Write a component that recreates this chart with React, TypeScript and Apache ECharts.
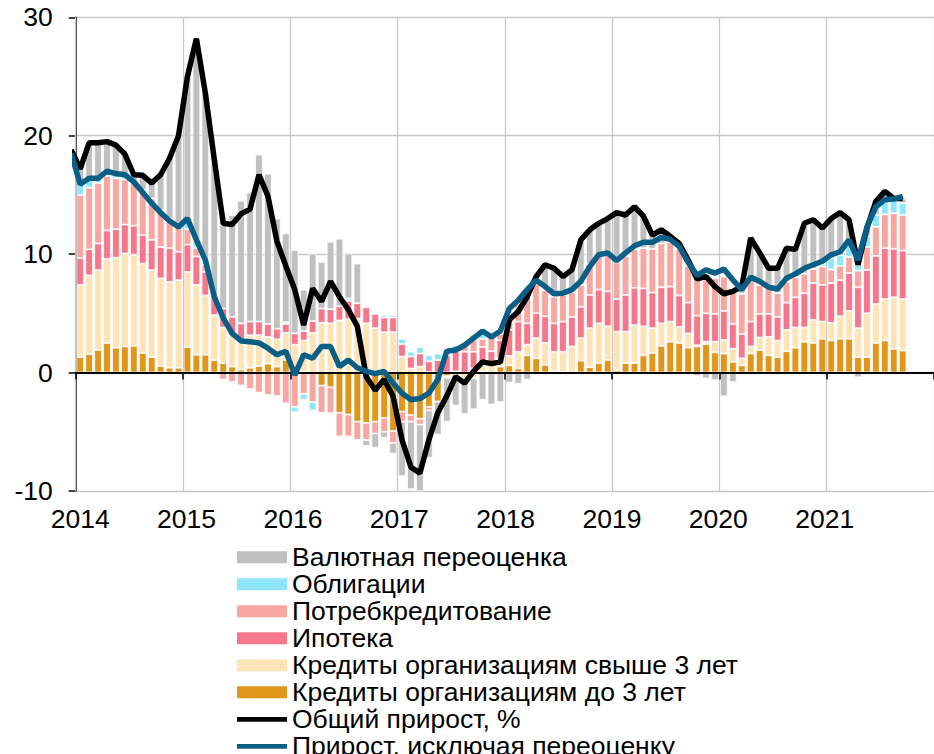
import React, { useEffect, useRef } from 'react';
import * as echarts from 'echarts';

// ---- Data (monthly, Jan 2014 .. Sep 2021), percentage points ----
const yearLabels = ['2014', '2015', '2016', '2017', '2018', '2019', '2020', '2021'];

// month categories Jan 2014 .. Dec 2021 (the axis spans 8 full years; data end in Sep 2021)
const monthCategories: string[] = [];
yearLabels.forEach((y) => {
  for (let m = 1; m <= 12; m++) monthCategories.push(`${y}-${m < 10 ? '0' + m : m}`);
});

const shortCorp = [
  1.3, 1.55, 1.9, 2.5, 2.1, 2.2, 2.25, 1.65, 1.3, 0.55, 0.4, 0.4,
  2.15, 1.5, 1.5, 1.05, 0.8, 0.5, 0.25, 0.4, 0.55, 0.75, 0.5, 1.05,
  0.05, 0.1, 0, -1.1, -1.25, -3.4, -3.55, -4.15, -4.25, -4.15, -3.85, -4.95,
  -3.3, -3.6, -3.9, -2.9, -2.45, -0.3, 0.1, 0, 0.35, 0.1, 0, 0.5,
  0.6, 0.35, 1.45, 1.2, 0.65, 0.1, 0.05, 0, 1.0, 0.45, 0.8, 1.05,
  0.2, 0.8, 0.8, 1.45, 1.65, 2.25, 2.6, 2.5, 2.1, 2.2, 2.4, 1.7,
  1.6, 0.9, 0.6, 1.6, 1.9, 1.45, 1.3, 1.8, 2.1, 2.6, 2.5, 2.85,
  2.7, 2.85, 2.85, 1.3, 1.3, 2.5, 2.7, 2.0, 1.85,
];

const longCorp = [
  6.1, 6.65, 6.75, 7.1, 7.6, 7.85, 7.7, 7.55, 7.35, 7.4, 7.25, 7.4,
  6.35, 5.9, 5.0, 3.8, 3.0, 2.65, 2.35, 2.75, 2.6, 2.25, 2.3, 2.3,
  2.3, 2.6, 3.35, 4.2, 4.15, 4.4, 4.5, 4.55, 4.15, 3.75, 3.4, 3.4,
  1.35, 0.35, 0.5, 0.05, 0, -0.15, -0.6, -0.7, -0.5, 0.5, 0.8, 0.7,
  0.8, 1.4, 0.9, 1.7, 1.85, 1.65, 1.7, 2.2, 1.9, 3.3, 3.35, 2.85,
  3.25, 2.65, 3.2, 2.45, 2.1, 1.9, 1.7, 1.35, 1.2, 0.1, 0.2, 0.9,
  1.15, 1.1, 0.6, 0.6, 1.05, 1.55, 1.4, 1.8, 1.7, 1.2, 1.95, 1.45,
  1.5, 1.9, 2.35, 2.45, 3.7, 3.3, 3.5, 4.35, 4.35,
];

const mortgage = [
  2.25, 2.2, 2.25, 2.4, 2.4, 2.45, 2.45, 2.4, 2.55, 2.65, 2.85, 2.4,
  2.3, 2.4, 2.0, 1.65, 1.6, 1.55, 1.55, 1.15, 1.15, 1.1, 0.9, 0.75,
  0.95, 0.8, 1.0, 1.2, 1.2, 1.2, 1.55, 1.3, 1.35, 1.2, 1.25, 1.25,
  1.05, 1.0, 1.1, 0.9, 1.05, 1.45, 1.7, 1.75, 1.4, 1.55, 1.0, 1.55,
  2.2, 2.55, 1.8, 2.1, 2.25, 2.4, 2.55, 2.5, 2.65, 2.8, 2.85, 2.95,
  2.75, 3.1, 3.15, 3.2, 3.0, 3.05, 2.95, 2.65, 2.6, 2.5, 2.4, 2.35,
  2.45, 2.1, 2.05, 2.1, 2.0, 1.95, 2.0, 2.3, 2.55, 2.9, 3.1, 3.1,
  3.35, 3.05, 3.2, 3.45, 3.65, 4.05, 4.3, 4.1, 4.1,
];

const consumer = [
  5.35, 5.2, 5.1, 4.6, 4.3, 3.8, 3.7, 3.8, 3.5, 3.1, 2.5, 2.4,
  1.3, 0.7, 0.6, -0.2, -0.6, -0.8, -1.1, -1.4, -1.7, -1.9, -2.0, -2.6,
  -2.9, -1.8, -2.5, -2.3, -2.2, -2.0, -1.85, -1.55, -1.45, -1.0, -1.15, -1.0,
  -0.85, -0.55, -0.5, -0.3, 0, 0, 0, 0.45, 1.0, 0.7, 1.2, 0.5,
  1.3, 1.5, 2.6, 2.5, 2.2, 2.25, 2.25, 2.1, 1.85, 2.6, 3.0, 3.15,
  3.1, 3.3, 3.25, 3.4, 3.7, 3.7, 3.75, 3.95, 3.1, 3.1, 2.8, 3.0,
  2.9, 3.0, 3.4, 3.7, 2.45, 2.2, 2.0, 1.75, 1.7, 1.65, 1.2, 1.55,
  1.15, 1.2, 1.35, 1.4, 1.95, 2.45, 2.85, 3.0, 3.0,
];

const bonds = [
  0.9, 0.8, 0.4, 0.4, 0.4, 0.4, 0, 0, 0, 0, 0, 0,
  0.9, 0.7, 0.4, 0, 0, 0, 0, 0, 0, 0, 0, 0.15,
  -0.45, -0.5, -0.7, 0, 0, 0, 0.2, 0, 0, 0, 0.2, 0.2,
  0.45, 0.4, 0.55, 0.5, 0.55, 0.45, 0.5, 0.4, 0.45, 0.4, 0.3, 0.15,
  0.4, 0.3, 0.25, 0.3, 0.2, 0.1, 0, 0, 0, 0, 0, 0,
  0, 0, 0, 0, 0, 0, 0, 0, 0, 0, 0, 0,
  0, 0, 0, 0, 0, 0, 0, 0, 0, 0, 0, 0.2,
  0.95, 0.9, 1.05, 0.5, 0.9, 1.0, 1.1, 1.05, 1.0,
];

const fxRevaluation = [
  1.3, 3.0, 3.0, 2.5, 2.4, 1.75, 0.8, 1.45, 1.7, 3.2, 5.3, 7.7,
  12.0, 17.0, 14.1, 11.6, 7.8, 8.6, 10.35, 10.9, 14.1, 12.7, 9.3, 7.5,
  7.05, 3.5, 5.7, 3.95, 5.7, 5.7, 3.8, 3.35, -0.5, -1.2, -0.5, -0.9,
  -4.6, -5.7, -6.1, -4.0, -2.8, -3.7, -2.2, -2.8, -2.6, -2.3, -2.7, -2.5,
  -0.85, -0.95, -0.6, 0.3, 1.95, 2.3, 1.55, 1.85, 3.8, 2.9, 2.6, 3.0,
  4.2, 3.45, 3.6, 2.7, 1.15, 1.15, 0.5, 0.45, -0.2, -0.3, -0.5, -0.65,
  -2.0, -0.8, 0.6, 3.35, 2.7, 1.65, 2.1, 2.85, 2.35, 4.25, 4.15, 3.05,
  3.35, 3.6, 2.1, -0.4, 0.7, 1.15, 0.85, 0.2, 0.4,
];

// Lines start one month earlier (Dec 2013), clipped at the axis
const totalGrowth = [
  18.8,
  17.2, 19.4, 19.4, 19.5, 19.2, 18.45, 16.7, 16.65, 16.0, 16.7, 18.1, 20.0,
  25.0, 28.2, 23.6, 18.0, 12.6, 12.5, 13.4, 13.8, 16.7, 14.9, 11.1, 9.0,
  7.0, 4.0, 7.1, 6.0, 7.7, 6.4, 5.3, 3.9, -0.35, -1.5, -0.6, -2.0,
  -5.7, -8.0, -8.5, -5.7, -3.4, -2.0, -0.35, -0.9, 0.1, 0.9, 0.75, 0.9,
  4.45, 5.15, 6.4, 8.1, 9.1, 8.8, 8.1, 8.67, 11.2, 12.05, 12.6, 13.0,
  13.5, 13.3, 14.0, 13.2, 11.6, 12.05, 11.5, 10.9, 9.5, 7.9, 8.1, 7.26,
  6.65, 6.85, 7.26, 11.35, 10.1, 8.8, 8.8, 10.5, 10.4, 12.6, 12.9, 12.2,
  13.0, 13.5, 12.9, 9.1, 12.2, 14.45, 15.3, 14.7, 14.7,
];

const growthExRevaluation = [
  18.5,
  15.9, 16.4, 16.4, 17.0, 16.8, 16.7, 16.1, 15.2, 14.3, 13.5, 12.8, 12.3,
  13.0, 11.2, 9.5, 6.4, 4.6, 3.3, 2.67, 2.6, 2.5, 2.05, 1.5, 1.8,
  -0.2, 1.5, 1.2, 2.2, 2.2, 0.5, 1.06, 0.4, 0.1, -0.1, 0.1, -0.9,
  -1.75, -2.3, -2.2, -1.75, -0.6, 1.8, 1.9, 2.3, 2.9, 3.5, 3.0, 3.5,
  5.4, 6.1, 7.0, 7.8, 7.26, 6.65, 6.7, 7.0, 7.7, 8.95, 9.95, 10.1,
  9.45, 10.1, 10.7, 11.0, 11.0, 11.4, 11.25, 10.65, 9.3, 8.2, 8.67, 8.4,
  8.73, 7.83, 7.0, 8.05, 7.7, 7.2, 7.05, 7.97, 8.33, 8.8, 9.1, 9.4,
  9.94, 10.2, 11.2, 9.5, 12.3, 14.0, 14.6, 14.65, 14.87,
];

const barSeriesDefs = [
  { name: 'Кредиты организациям до 3 лет', data: shortCorp, color: '#e0961a' },
  { name: 'Кредиты организациям свыше 3 лет', data: longCorp, color: '#fde3b5' },
  { name: 'Ипотека', data: mortgage, color: '#f4788a' },
  { name: 'Потребкредитование', data: consumer, color: '#f7a6a0' },
  { name: 'Облигации', data: bonds, color: '#8ee6fa' },
  { name: 'Валютная переоценка', data: fxRevaluation, color: '#c0c0c0' },
];

const TOTAL_NAME = 'Общий прирост, %';
const EX_NAME = 'Прирост, исключая переоценку';

const legendOrder = [
  'Валютная переоценка',
  'Облигации',
  'Потребкредитование',
  'Ипотека',
  'Кредиты организациям свыше 3 лет',
  'Кредиты организациям до 3 лет',
  TOTAL_NAME,
  EX_NAME,
];

const FONT = "'Liberation Sans', Arial, Helvetica, sans-serif";
const FONT_SIZE = 26.5;
const LINE_ICON = 'path://M0,0H50V4.8H0Z';

function buildOption() {
  const LEFT = 75.7;
  const MONTH_PX = 9.08;
  const SPAN = monthCategories.length; // 96 months
  const W = 934;
  const plotW = SPAN * MONTH_PX;
  const top = 17.3;
  const bottom = 754 - 490.9;
  const gridColor = '#c8c8c8';

  const bars = barSeriesDefs.map((d) => ({
    type: 'bar',
    name: d.name,
    stack: 'total',
    stackStrategy: 'samesign',
    barWidth: 7.6,
    xAxisIndex: 2,
    yAxisIndex: 0,
    silent: true,
    data: d.data,
    itemStyle: { color: d.color, borderColor: '#ffffff', borderWidth: 0.8 },
  }));

  const lines = [
    { name: TOTAL_NAME, data: totalGrowth, color: '#000000', z: 5 },
    { name: EX_NAME, data: growthExRevaluation, color: '#0b5f86', z: 6 },
  ].map((l) => ({
    type: 'line',
    name: l.name,
    xAxisIndex: 0,
    yAxisIndex: 0,
    symbol: 'none',
    showSymbol: false,
    clip: true,
    silent: true,
    z: l.z,
    data: l.data.map((v, j) => [j - 0.5, v]),
    lineStyle: { color: l.color, width: 5.5 },
    itemStyle: { color: l.color },
  }));

  return {
    animation: false,
    backgroundColor: '#ffffff',
    textStyle: { fontFamily: FONT },
    grid: [
      { left: LEFT, right: W - LEFT - plotW, top, bottom },
      { left: LEFT + MONTH_PX / 2, right: W - LEFT - MONTH_PX / 2 - plotW, top, bottom },
    ],
    legend: {
      orient: 'vertical',
      left: 237,
      top: 543.8,
      height: 400,
      padding: 0,
      itemGap: 0,
      itemWidth: 50,
      itemHeight: 12,
      selectedMode: false,
      textStyle: { fontSize: FONT_SIZE, color: '#000', fontFamily: FONT, lineHeight: 26.4 },
      itemStyle: { borderWidth: 0 },
      data: legendOrder.map((n) =>
        n === TOTAL_NAME || n === EX_NAME ? { name: n, icon: LINE_ICON } : { name: n, icon: 'rect' }
      ),
    },
    xAxis: [
      {
        type: 'value',
        gridIndex: 0,
        min: 0,
        max: SPAN,
        interval: 12,
        axisLine: { show: true, onZero: true, lineStyle: { color: '#000', width: 2 } },
        axisTick: { show: true, length: 7, lineStyle: { color: '#000', width: 1.5 } },
        axisLabel: { show: false },
        splitLine: { show: true, lineStyle: { color: gridColor, width: 1.3 } },
        z: 4,
      },
      {
        type: 'value',
        gridIndex: 1,
        min: 0,
        max: SPAN,
        interval: 12,
        axisLine: { show: false, onZero: false },
        axisTick: { show: false },
        splitLine: { show: false },
        axisLabel: {
          fontSize: FONT_SIZE,
          color: '#000',
          fontFamily: FONT,
          margin: 15,
          formatter: (v: number) => {
            const k = Math.round(v / 12);
            return k >= 0 && k < yearLabels.length ? yearLabels[k] : '';
          },
        },
      },
      {
        type: 'category',
        gridIndex: 0,
        data: monthCategories,
        boundaryGap: true,
        show: false,
      },
    ],
    yAxis: [
      {
        type: 'value',
        gridIndex: 0,
        min: -10,
        max: 30,
        interval: 10,
        axisLine: { show: true, onZero: false, lineStyle: { color: '#000', width: 1.5 } },
        axisTick: { show: true, length: 7, lineStyle: { color: '#000', width: 1.5 } },
        axisLabel: { fontSize: FONT_SIZE, color: '#000', fontFamily: FONT, margin: 23 },
        splitLine: { show: true, lineStyle: { color: gridColor, width: 1.3 } },
      },
      { type: 'value', gridIndex: 1, min: -10, max: 30, show: false },
    ],
    series: [...bars, ...lines],
  };
}

export default function App() {
  const ref = useRef<HTMLDivElement>(null);
  useEffect(() => {
    if (!ref.current) return;
    const chart = echarts.init(ref.current, null, { renderer: 'svg' });
    chart.setOption(buildOption() as any);
    return () => chart.dispose();
  }, []);
  return (
    <div
      ref={ref}
      style={{ position: 'fixed', left: 0, top: 0, width: 934, height: 754, background: '#fff' }}
    />
  );
}
